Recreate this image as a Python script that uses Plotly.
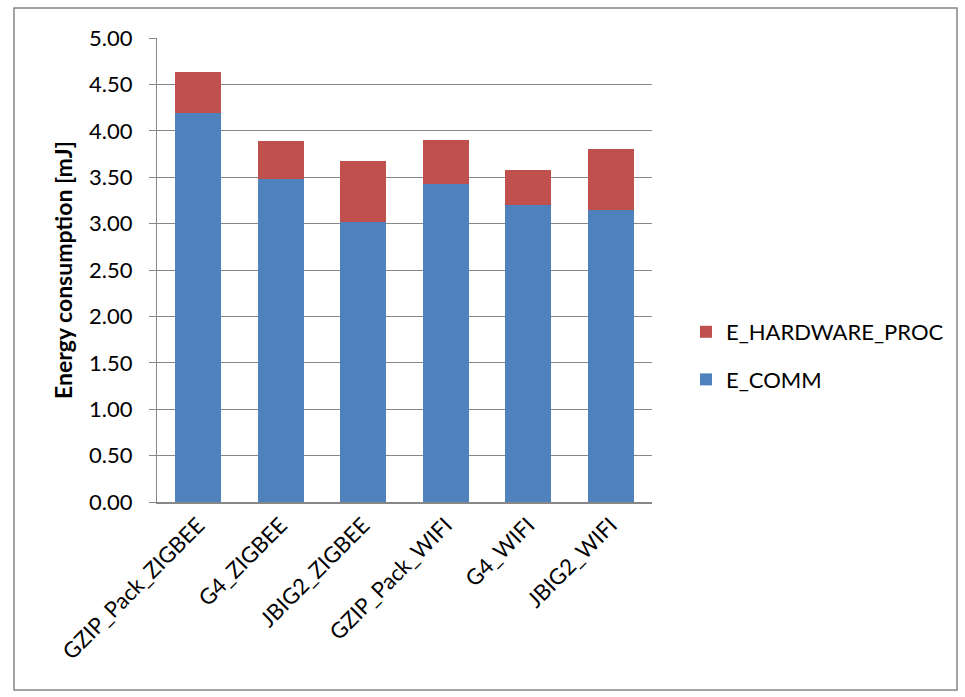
import plotly.graph_objects as go

categories = ["GZIP_Pack_ZIGBEE", "G4_ZIGBEE", "JBIG2_ZIGBEE", "GZIP_Pack_WIFI", "G4_WIFI", "JBIG2_WIFI"]
e_comm = [4.19, 3.48, 3.02, 3.43, 3.20, 3.15]
e_hardware_proc = [0.44, 0.41, 0.65, 0.47, 0.38, 0.65]
y_ticks = [0, 0.5, 1, 1.5, 2, 2.5, 3, 3.5, 4, 4.5, 5]

W, H = 965, 697
L, R, T, B = 157, 652, 38, 502

def px_x(p):
    return (p - L) / (R - L)

def px_y(p):
    return (B - p) / (B - T)

FONT = "Lato, Carlito, Calibri, sans-serif"

fig = go.Figure()
fig.add_trace(go.Bar(x=categories, y=e_comm, name="E_COMM", marker_color="#4F81BD",
                     marker_line_width=0, legendrank=2, legendgroup="comm"))
fig.add_trace(go.Bar(x=categories, y=e_hardware_proc, name="E_HARDWARE_PROC", marker_color="#C0504D",
                     marker_line_width=0, legendrank=1, legendgroup="hw"))

fig.update_layout(
    width=W, height=H,
    barmode="stack", bargap=0.44,
    margin=dict(l=L, r=W - R, t=T, b=H - B, autoexpand=False),
    paper_bgcolor="white", plot_bgcolor="white",
    font=dict(family=FONT, size=22, color="black"),
    legend=dict(x=px_x(686), xanchor="left", y=px_y(356), yanchor="middle",
                traceorder="grouped", tracegroupgap=16,
                font=dict(size=22), itemwidth=30),
    showlegend=True,
    shapes=[dict(type="rect", xref="paper", yref="paper",
                 x0=px_x(14), x1=px_x(957), y0=px_y(690), y1=px_y(8),
                 line=dict(color="#868686", width=1.5), fillcolor="rgba(0,0,0,0)", layer="below")],
)
fig.update_yaxes(range=[0, 5], tickvals=y_ticks, tickformat=".2f",
                 showgrid=True, gridcolor="#878787", gridwidth=1,
                 showline=True, linecolor="#878787", linewidth=1,
                 ticks="outside", ticklen=7, tickcolor="#878787",
                 ticklabelstandoff=12,
                 zeroline=False, automargin=False,
                 tickfont=dict(size=22),
                 title=dict(text="<b>Energy consumption [mJ]</b>", font=dict(size=23), standoff=10))
fig.update_xaxes(showline=True, linecolor="#878787", linewidth=1.5, tickangle=-45,
                 ticks="", showgrid=False, automargin=False, tickfont=dict(size=22))

fig.write_html("out.html")
